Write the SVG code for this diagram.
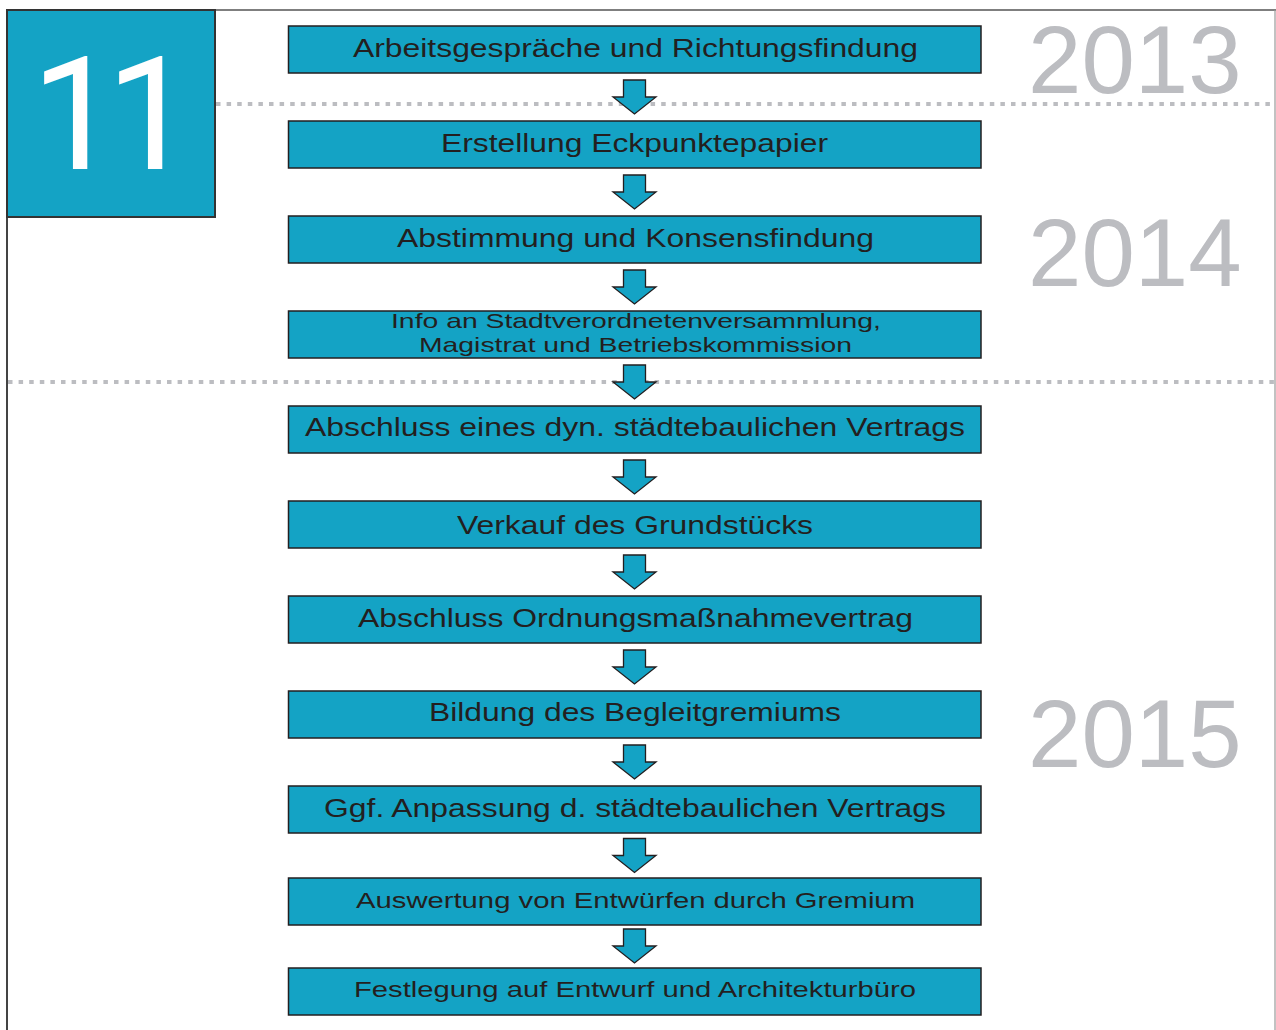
<svg xmlns="http://www.w3.org/2000/svg" width="1276" height="1030" viewBox="0 0 1276 1030">
<style>
.box{fill:#14a3c5;stroke:#231f20;stroke-width:1.5}
.t{font-family:"Liberation Sans",Arial,sans-serif;fill:#231f20;text-anchor:start}
.yr{font-family:"Liberation Sans",Arial,sans-serif;fill:#bcbdc1;font-size:96px}
.dot{stroke:#bcbdc1;stroke-width:4;stroke-dasharray:4.5 6.1;fill:none}
.arr{fill:#14a3c5;stroke:#231f20;stroke-width:1.3;stroke-linejoin:miter}
.one{font-family:Roboto,"Liberation Sans",sans-serif;font-size:158px;fill:#ffffff}
</style>
<defs>
<polygon id="arrow" class="arr" points="-11,0 11,0 11,17 21.5,17 0,34 -21.5,17 -11,17"/>
</defs>
<rect x="0" y="0" width="1276" height="1030" fill="#ffffff"/>
<g id="frame">
<line x1="7" y1="10" x2="1276" y2="10" stroke="#555" stroke-width="1.5"/>
<line x1="7" y1="10" x2="7" y2="1030" stroke="#444" stroke-width="2"/>
<line x1="1275" y1="10" x2="1275" y2="1030" stroke="#999" stroke-width="1.2"/>
</g>
<g id="dividers">
<line class="dot" x1="216" y1="104" x2="1275" y2="104"/>
<line class="dot" x1="8" y1="382" x2="1275" y2="382"/>
</g>
<g id="badge">
<rect x="7" y="10" width="208" height="207" fill="#14a3c5" stroke="#333" stroke-width="2"/>
<text class="one" x="31 106" y="169">11</text>
</g>
<g id="years">
<text class="yr" x="1028" y="93">2013</text>
<text class="yr" x="1028" y="286">2014</text>
<text class="yr" x="1028" y="767">2015</text>
</g>
<g id="connectors">
<use href="#arrow" x="634.5" y="80"/>
<use href="#arrow" x="634.5" y="175"/>
<use href="#arrow" x="634.5" y="270"/>
<use href="#arrow" x="634.5" y="365"/>
<use href="#arrow" x="634.5" y="460"/>
<use href="#arrow" x="634.5" y="555"/>
<use href="#arrow" x="634.5" y="650"/>
<use href="#arrow" x="634.5" y="745"/>
<use href="#arrow" x="634.5" y="838.5"/>
<use href="#arrow" x="634.5" y="929"/>
</g>
<g id="n1"><rect class="box" x="288.5" y="26" width="692.5" height="47"/><text class="t" x="353" y="57" font-size="26" textLength="565" lengthAdjust="spacingAndGlyphs">Arbeitsgespräche und Richtungsfindung</text></g>
<g id="n2"><rect class="box" x="288.5" y="121" width="692.5" height="47"/><text class="t" x="441" y="152" font-size="26" textLength="387" lengthAdjust="spacingAndGlyphs">Erstellung Eckpunktepapier</text></g>
<g id="n3"><rect class="box" x="288.5" y="216" width="692.5" height="47"/><text class="t" x="397" y="247" font-size="26" textLength="477" lengthAdjust="spacingAndGlyphs">Abstimmung und Konsensfindung</text></g>
<g id="n4"><rect class="box" x="288.5" y="311" width="692.5" height="47"/><text class="t" x="391" y="328" font-size="21" textLength="490" lengthAdjust="spacingAndGlyphs">Info an Stadtverordnetenversammlung,</text><text class="t" x="419" y="352" font-size="21" textLength="433" lengthAdjust="spacingAndGlyphs">Magistrat und Betriebskommission</text></g>
<g id="n5"><rect class="box" x="288.5" y="406" width="692.5" height="47"/><text class="t" x="305" y="436" font-size="26" textLength="660" lengthAdjust="spacingAndGlyphs">Abschluss eines dyn. städtebaulichen Vertrags</text></g>
<g id="n6"><rect class="box" x="288.5" y="501" width="692.5" height="47"/><text class="t" x="457" y="534" font-size="26" textLength="356" lengthAdjust="spacingAndGlyphs">Verkauf des Grundstücks</text></g>
<g id="n7"><rect class="box" x="288.5" y="596" width="692.5" height="47"/><text class="t" x="358" y="627" font-size="26" textLength="555" lengthAdjust="spacingAndGlyphs">Abschluss Ordnungsmaßnahmevertrag</text></g>
<g id="n8"><rect class="box" x="288.5" y="691" width="692.5" height="47"/><text class="t" x="429" y="721" font-size="26" textLength="412" lengthAdjust="spacingAndGlyphs">Bildung des Begleitgremiums</text></g>
<g id="n9"><rect class="box" x="288.5" y="786" width="692.5" height="47"/><text class="t" x="324" y="817" font-size="26" textLength="622" lengthAdjust="spacingAndGlyphs">Ggf. Anpassung d. städtebaulichen Vertrags</text></g>
<g id="n10"><rect class="box" x="288.5" y="878" width="692.5" height="47"/><text class="t" x="356" y="908" font-size="22" textLength="559" lengthAdjust="spacingAndGlyphs">Auswertung von Entwürfen durch Gremium</text></g>
<g id="n11"><rect class="box" x="288.5" y="968" width="692.5" height="47"/><text class="t" x="354" y="997" font-size="22" textLength="562" lengthAdjust="spacingAndGlyphs">Festlegung auf Entwurf und Architekturbüro</text></g>
</svg>
